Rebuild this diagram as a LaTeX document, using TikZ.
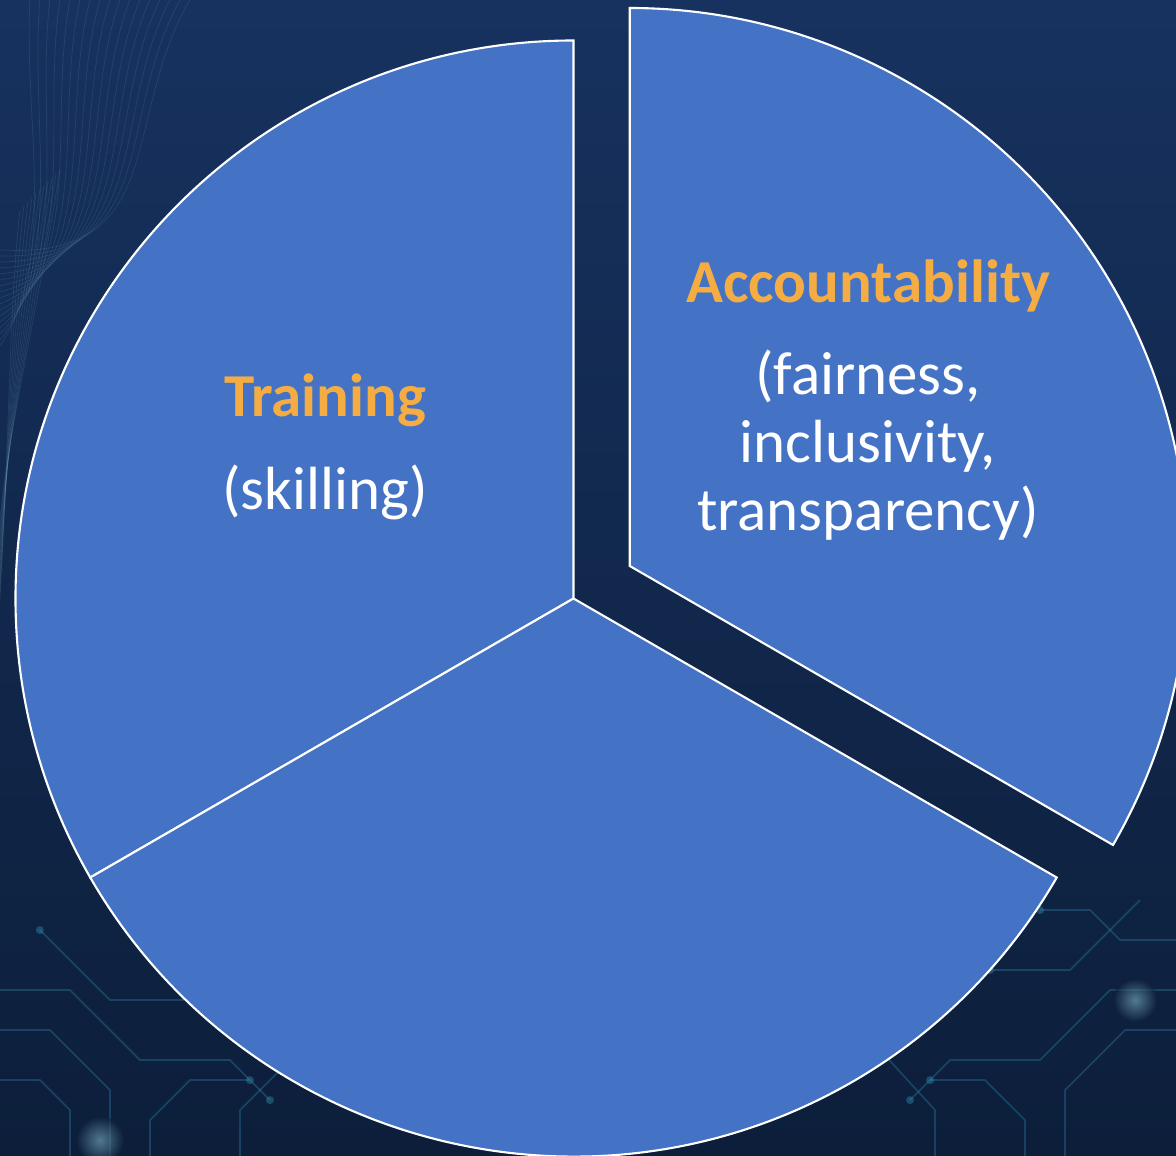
\documentclass[tikz,border=0pt]{standalone}
\usepackage{fontspec}
\setmainfont{Carlito}
\usetikzlibrary{calc}
\definecolor{SliceBlue}{HTML}{4472C4}
\definecolor{TitleOrange}{HTML}{F5AD43}
\definecolor{BackTop}{HTML}{17325F}
\definecolor{BackBottom}{HTML}{0C1E3A}
\definecolor{TraceCyan}{HTML}{2E86A8}
\tikzstyle{Slice}=[fill=SliceBlue, draw=white, line width=1.2pt]
\tikzstyle{TitleText}=[text=TitleOrange, font=\fontsize{34.7}{39}\selectfont\bfseries]
\tikzstyle{BodyText}=[text=white, font=\fontsize{34.7}{38.7}\selectfont, align=center]
\tikzstyle{Trace}=[TraceCyan, line width=1pt, opacity=0.35]
\tikzstyle{TraceDot}=[fill=TraceCyan, opacity=0.45]
\tikzstyle{Wave}=[TraceCyan!60!white, line width=0.4pt, opacity=0.14]
\tikzstyle{Glow}=[inner color=TraceCyan!60!white, outer color=BackBottom, opacity=0.6]

\begin{document}
\begin{tikzpicture}
\useasboundingbox (-11.47,-11.15) rectangle (12.05,11.97);
\clip (-11.47,-11.15) rectangle (12.05,11.97);
\shade[top color=BackTop, bottom color=BackBottom] (-11.47,-11.15) rectangle (12.05,11.97);

\begin{scope}[x=0.02cm, y=-0.02cm, shift={(-573.5,-598.5)}]
\foreach \i in {0,...,16}
  \draw[Wave] (190-10*\i,0) .. controls (120-6*\i,120) and (170-7*\i,260) .. (0,250+6*\i);
\foreach \i in {0,...,10}
  \draw[Wave] (60-4*\i,170+4*\i) .. controls (40-3*\i,300) and (10,420) .. (0,520+8*\i);

\draw[Trace] (0,990) -- (70,990) -- (140,1060) -- (230,1060) -- (270,1100);
\draw[Trace] (0,1030) -- (50,1030) -- (110,1090) -- (110,1156);
\draw[Trace] (40,930) -- (110,1000) -- (190,1000);
\draw[Trace] (150,1156) -- (150,1120) -- (190,1080) -- (250,1080);
\draw[Trace] (240,1156) -- (240,1110) -- (300,1050);
\draw[Trace] (0,1080) -- (40,1080) -- (70,1110) -- (70,1156);
\foreach \p in {(270,1100),(190,1000),(250,1080),(300,1050),(40,930)}
  \fill[TraceDot] \p circle (4);

\draw[Trace] (1176,990) -- (1110,990) -- (1040,1060) -- (950,1060) -- (910,1100);
\draw[Trace] (1176,1030) -- (1125,1030) -- (1065,1090) -- (1065,1156);
\draw[Trace] (1140,900) -- (1070,970) -- (990,970);
\draw[Trace] (1025,1156) -- (1025,1120) -- (985,1080) -- (930,1080);
\draw[Trace] (935,1156) -- (935,1110) -- (880,1050);
\draw[Trace] (1176,940) -- (1120,940) -- (1090,910) -- (1040,910);
\foreach \p in {(910,1100),(990,970),(930,1080),(880,1050),(1040,910)}
  \fill[TraceDot] \p circle (4);

\shade[Glow] (1135,1000) circle (22);
\shade[Glow] (100,1140) circle (24);
\end{scope}

\filldraw[Slice] (0,0) -- (90:11.16) arc[start angle=90, end angle=210, radius=11.16] -- cycle;
\filldraw[Slice] (0,0) -- (210:11.16) arc[start angle=210, end angle=330, radius=11.16] -- cycle;
\filldraw[Slice] (30:1.3) -- ++(330:11.16) arc[start angle=330, end angle=450, radius=11.16] -- cycle;

\node[TitleText] (TrainTitle) at (-4.97,3.96) {Training};
\node[BodyText] (TrainBody) at (-4.97,2.13) {(skilling)};
\node[TitleText] (AccTitle) at (5.89,6.25) {Accountability};
\node[BodyText] (AccBody) at (5.89,3.07) {(fairness,\\inclusivity,\\transparency)};
\end{tikzpicture}
\end{document}
